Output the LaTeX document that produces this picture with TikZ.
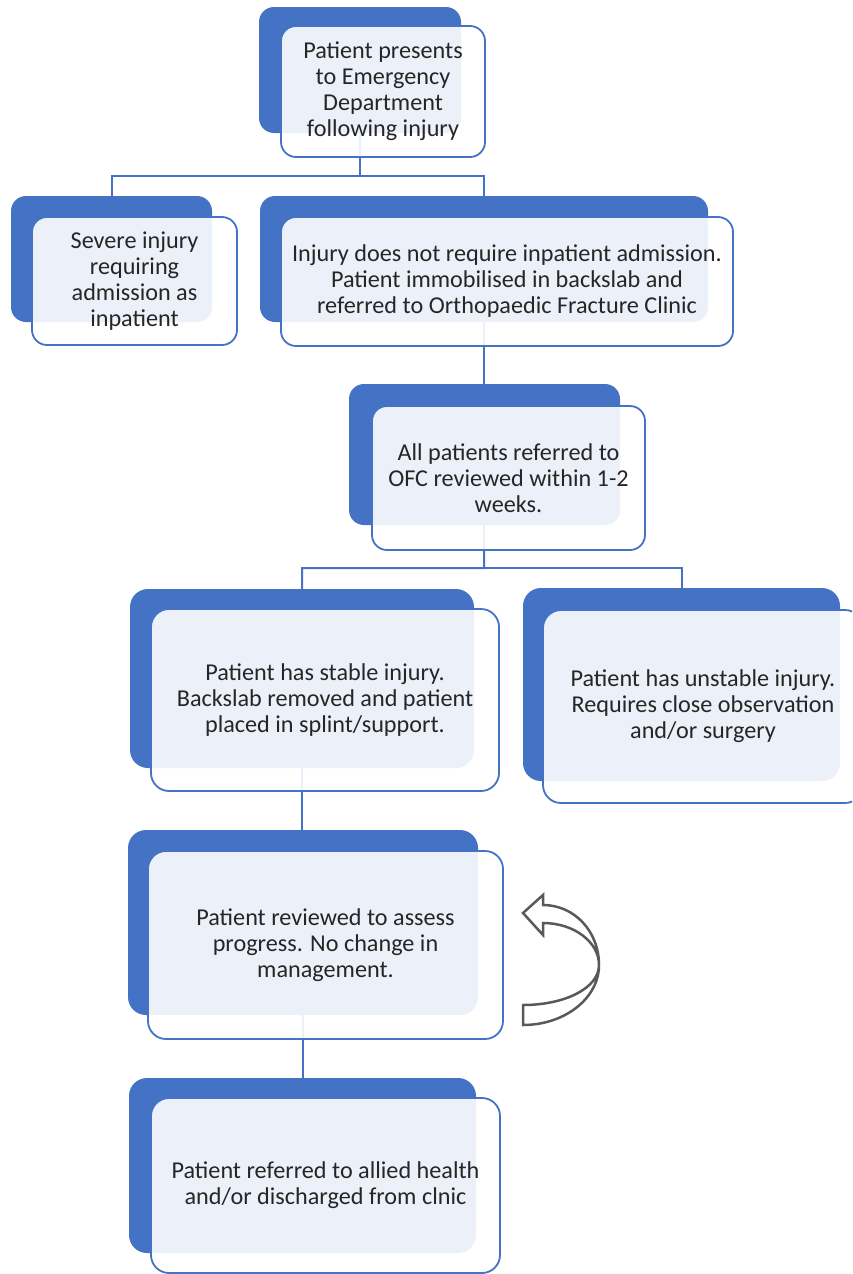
\documentclass[tikz,border=0pt]{standalone}
\usepackage{fontspec}
\setmainfont{Carlito}
\definecolor{accent}{HTML}{4472C4}
\definecolor{arrowgray}{HTML}{595959}
\definecolor{txt}{HTML}{262626}
\pgfdeclarelayer{bg}
\pgfsetlayers{bg,main}
\begin{document}
\begin{tikzpicture}[x=1pt,y=-1pt,
  back/.style={rectangle, rounded corners=#1, fill=accent, inner sep=0pt, outer sep=0pt},
  back/.default=15pt,
  front/.style={rectangle, rounded corners=#1, draw=accent, line width=1.8pt,
    fill=white, fill opacity=0.9, text opacity=1, text=txt, align=center,
    inner sep=0pt, outer sep=0pt, font=\fontsize{24.2}{26}\selectfont},
  front/.default=15pt,
  conn/.style={draw=accent, line width=2pt},
  curvearrow/.style={draw=arrowgray, line width=2.5pt, fill=white, line join=miter}]
\useasboundingbox (0,0) rectangle (852,1274);
\clip (0,0) rectangle (852,1274);

% dark back boxes
\node[back, minimum width=202pt, minimum height=126pt] (topD) at (360,70) {};
\node[back, minimum width=201pt, minimum height=126pt] (leftD) at (111.5,259) {};
\node[back, minimum width=448pt, minimum height=126pt] (rightD) at (484,259) {};
\node[back, minimum width=271pt, minimum height=141pt] (midD) at (484.5,454.5) {};
\node[back=18pt, minimum width=344pt, minimum height=179pt] (stabD) at (302,678.5) {};
\node[back=18pt, minimum width=317pt, minimum height=193pt] (unsD) at (681.5,684.5) {};
\node[back=18pt, minimum width=350pt, minimum height=185pt] (revD) at (303,922.5) {};
\node[back=18pt, minimum width=347pt, minimum height=175pt] (refD) at (302.5,1165.5) {};

% connectors (behind all boxes)
\coordinate (j1) at (360,176);
\coordinate (j2) at (484,568);
\begin{pgfonlayer}{bg}
\draw[conn] (topD.center) -- (j1) -| (leftD.north);
\draw[conn] (j1) -| (rightD.north);
\draw[conn] (rightD.center) -- (rightD.center |- midD.north);
\draw[conn] (midD.center) -- (j2) -| (stabD.north);
\draw[conn] (j2) -| (unsD.north);
\draw[conn] (stabD.center) -- (stabD.center |- revD.north);
\draw[conn] (revD.center) -- (revD.center |- refD.north);
\end{pgfonlayer}

% front boxes with text
\node[front, minimum width=204pt, minimum height=131pt] (topF) at (383,91.5)
  {Patient presents\\to Emergency\\Department\\following injury};
\node[front, minimum width=205pt, minimum height=128pt] (leftF) at (134.5,281)
  {Severe injury\\requiring\\admission as\\inpatient};
\node[front, minimum width=452pt, minimum height=129pt] (rightF) at (507,281.5)
  {Injury does not require inpatient admission.\\Patient immobilised in backslab and\\referred to Orthopaedic Fracture Clinic};
\node[front, minimum width=273pt, minimum height=144pt] (midF) at (508.5,478)
  {All patients referred to\\OFC reviewed within 1-2\\weeks.};
\node[front=18pt, minimum width=348pt, minimum height=182pt] (stabF) at (325,700)
  {Patient has stable injury.\\Backslab removed and patient\\placed in splint/support.};
\node[front=18pt, minimum width=320pt, minimum height=193pt] (unsF) at (703,706.5)
  {Patient has unstable injury.\\Requires close observation\\and/or surgery};
\node[front=18pt, minimum width=355pt, minimum height=188pt] (revF) at (325.5,945)
  {Patient reviewed to assess\\progress. No change in\\management.};
\node[front=18pt, minimum width=349pt, minimum height=175pt] (refF) at (325.5,1185.5)
  {Patient referred to allied health\\and/or discharged from clnic};

% curved loop-back arrow
\draw[curvearrow] (543,905) .. controls (574,905) and (599,931) .. (599,965)
  .. controls (599,998) and (565,1025) .. (523,1025) -- (523,1005)
  .. controls (565,1005) and (599,988) .. (599,965)
  .. controls (599,942) and (574,923) .. (543,923)
  -- (543,935) -- (523,913) -- (543,895) -- cycle;
\end{tikzpicture}
\end{document}
